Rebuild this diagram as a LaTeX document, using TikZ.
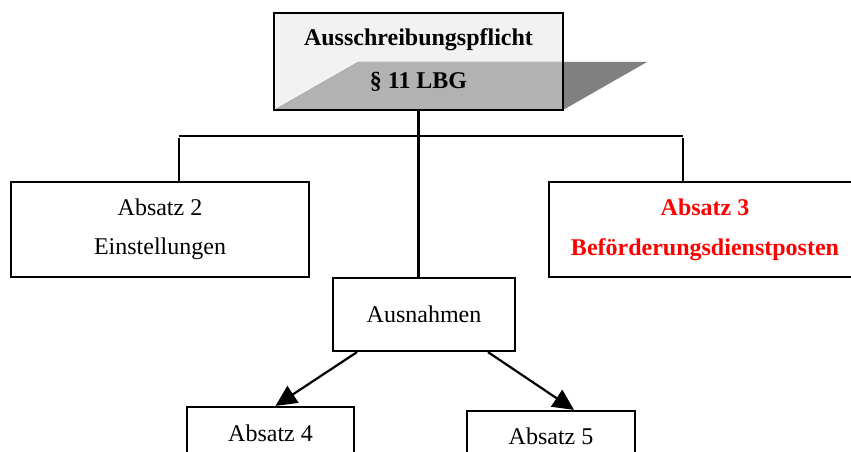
\documentclass[tikz,border=0pt]{standalone}
\usepackage{fontspec}
\setmainfont{Liberation Serif}
\usetikzlibrary{arrows.meta}
\definecolor{panelLight}{HTML}{F2F2F2}
\definecolor{bandMid}{HTML}{B2B2B2}
\definecolor{bandDark}{HTML}{808080}
\begin{document}
\begin{tikzpicture}[x=1pt,y=-1pt,
  box/.style={draw, line width=2.2pt, fill=white, inner sep=0pt, align=center,
    font=\fontsize{24}{39}\selectfont},
  label/.style={inner sep=0pt, font=\fontsize{24}{28}\selectfont\bfseries},
  link/.style={line width=2.2pt},
  arrowlink/.style={line width=2.2pt, -{Triangle[length=21pt,width=20pt]}}]
  \useasboundingbox (0,0) rectangle (851,452);
  \clip (0,0) rectangle (851,452);

  % title panel with its slanted band
  \node[draw=none, fill=panelLight, minimum width=289pt, minimum height=97pt, inner sep=0pt]
    (title) at (418.5,61.5) {};
  \fill[bandDark] (274,110) -- (358,62) -- (647,62) -- (563,110) -- cycle;
  \begin{scope}
    \clip (274,13) rectangle (563,110);
    \fill[bandMid] (274,110) -- (358,62) -- (647,62) -- (563,110) -- cycle;
  \end{scope}
  \draw[line width=2.2pt] (title.north west) rectangle (title.south east);
  \node[label] (duty) at (418.5,40) {Ausschreibungspflicht};
  \node[label] (law) at (418.5,82) {§ 11 LBG};

  % boxes
  \node[box, minimum width=298pt, minimum height=95pt] (abs2) at (160,229.5)
    {Absatz 2\\Einstellungen};
  \node[box, minimum width=312pt, minimum height=95pt, text=red,
    font=\fontsize{24}{40}\selectfont\bfseries] (abs3) at (705,229.5)
    {Absatz 3\\Beförderungsdienstposten};
  \node[box, minimum width=182pt, minimum height=73pt] (ausn) at (424,314.5) {Ausnahmen};
  \node[box, minimum width=167pt, minimum height=52pt] (abs4) at (270.5,433) {Absatz 4};
  \node[box, minimum width=168pt, minimum height=50pt] (abs5) at (551,436) {Absatz 5};

  % tree connectors
  \coordinate (barL) at (179,136);
  \coordinate (barR) at (683,136);
  \draw[link] (title.south) -- (title.south |- ausn.north);
  \draw[link] (barL) -- (barR);
  \draw[link] ([yshift=-2pt]barL) -- (barL |- abs2.north);
  \draw[link] ([yshift=-2pt]barR) -- (barR |- abs3.north);
  \draw[arrowlink] ([xshift=-67pt]ausn.south) -- ([xshift=5pt]abs4.north);
  \draw[arrowlink] ([xshift=64pt]ausn.south) -- ([xshift=23pt]abs5.north);
\end{tikzpicture}
\end{document}
